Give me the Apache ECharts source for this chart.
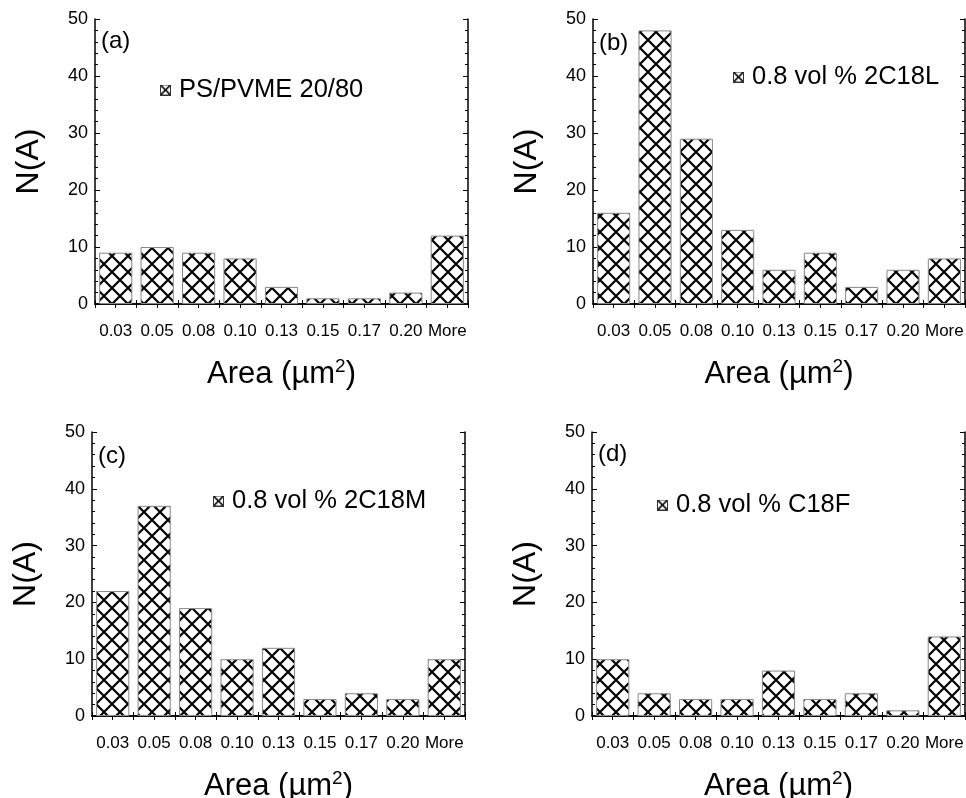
<!DOCTYPE html>
<html>
<head>
<meta charset="utf-8">
<script src="https://cdn.jsdelivr.net/npm/echarts@6/dist/echarts.min.js"></script>
<style>
  html, body { margin: 0; padding: 0; background: #fff; }
  #chart { width: 966px; height: 798px; }
</style>
</head>
<body>
<div id="chart"></div>
<script>
// Domain size histograms, N(A) per area bin
const categories = ['0.03', '0.05', '0.08', '0.10', '0.13', '0.15', '0.17', '0.20', 'More'];
const countsBlend = [9, 10, 9, 8, 3, 1, 1, 2, 12];
const counts2C18L = [16, 48, 29, 13, 6, 9, 3, 6, 8];
const counts2C18M = [22, 37, 19, 10, 12, 3, 4, 3, 10];
const countsC18F = [10, 4, 3, 3, 8, 3, 4, 1, 14];
const seriesNames = ['PS/PVME 20/80', '0.8 vol % 2C18L', '0.8 vol % 2C18M', '0.8 vol % C18F'];
const panelTags = ['(a)', '(b)', '(c)', '(d)'];
const yMin = 0, yMax = 50, yStep = 10;

const panelCounts = [countsBlend, counts2C18L, counts2C18M, countsC18F];
const FONT = "'Liberation Sans', Arial, Helvetica, sans-serif";

// Cross-hatch fill used by all bars
function makeHatch(size) {
  const c = document.createElement('canvas');
  c.width = c.height = size;
  const g = c.getContext('2d');
  g.fillStyle = '#fff';
  g.fillRect(0, 0, size, size);
  g.strokeStyle = '#000';
  g.lineWidth = 2.2;
  g.beginPath();
  for (const k of [-size, 0, size]) {
    g.moveTo(k, 0); g.lineTo(k + size, size);
    g.moveTo(k + size, 0); g.lineTo(k, size);
  }
  g.stroke();
  return c;
}

// Small boxed-cross swatch for the legends
function makeSwatch() {
  const s = 11;
  const c = document.createElement('canvas');
  c.width = c.height = s;
  const g = c.getContext('2d');
  g.fillStyle = '#fff';
  g.fillRect(0, 0, s, s);
  g.strokeStyle = '#000';
  g.lineWidth = 1.7;
  g.beginPath();
  g.moveTo(1, 1); g.lineTo(s - 1, s - 1);
  g.moveTo(s - 1, 1); g.lineTo(1, s - 1);
  g.stroke();
  g.strokeStyle = '#333';
  g.lineWidth = 1;
  g.strokeRect(0.5, 0.5, s - 1, s - 1);
  return c.toDataURL();
}

const hatch = makeHatch(16);
const swatch = makeSwatch();

const grids = [
  { left: 95, top: 19, width: 373, height: 285, outerBoundsMode: 'none' },
  { left: 593, top: 19, width: 372, height: 285, outerBoundsMode: 'none' },
  { left: 92, top: 432, width: 373, height: 284, outerBoundsMode: 'none' },
  { left: 592, top: 432, width: 373, height: 284, outerBoundsMode: 'none' }
];
const legendPos = [
  { left: 160, top: 77 },
  { left: 733, top: 64 },
  { left: 213, top: 488 },
  { left: 657, top: 492 }
];
const tagPos = [
  { left: 101, top: 29 },
  { left: 599, top: 31 },
  { left: 98, top: 444 },
  { left: 598, top: 442 }
];

const axisLine = { show: true, lineStyle: { color: '#000', width: 1.5 } };

const xAxes = [], yAxes = [], series = [], legends = [], titles = [];
grids.forEach((g, i) => {
  // bottom category axis with bin labels
  xAxes.push({
    type: 'category', gridIndex: i, position: 'bottom', data: categories,
    boundaryGap: true,
    axisLine: axisLine,
    axisTick: { show: true, inside: true, length: 4, lineStyle: { color: '#000', width: 1 } },
    axisLabel: { color: '#000', fontFamily: FONT, fontSize: 17, margin: 19, interval: 0 },
    name: 'Area (\u00b5m{sup|2})',
    nameLocation: 'middle', nameGap: 53,
    nameTextStyle: {
      color: '#000', fontFamily: FONT, fontSize: 31,
      rich: { sup: { fontSize: 19, fontFamily: FONT, color: '#000', verticalAlign: 'top', padding: [0, 0, 16, 0] } }
    },
    splitLine: { show: false }
  });
  // top frame with half-bin ticks
  xAxes.push({
    type: 'value', gridIndex: i, position: 'top', min: 0, max: 9, interval: 0.5,
    axisLine: axisLine,
    axisTick: { show: true, inside: true, length: 4, lineStyle: { color: '#000', width: 1 } },
    axisLabel: { show: false }, splitLine: { show: false }
  });
  yAxes.push({
    type: 'value', gridIndex: i, position: 'left', min: yMin, max: yMax, interval: yStep,
    axisLine: axisLine,
    axisTick: { show: true, inside: true, length: 5, lineStyle: { color: '#000', width: 1 } },
    minorTick: { show: true, splitNumber: 5, length: 3, lineStyle: { color: '#000', width: 1 } },
    axisLabel: { color: '#000', fontFamily: FONT, fontSize: 18, margin: 7 },
    splitLine: { show: false },
    name: 'N(A)', nameLocation: 'middle', nameGap: 50,
    nameTextStyle: { color: '#000', fontFamily: FONT, fontSize: 32 }
  });
  yAxes.push({
    type: 'value', gridIndex: i, position: 'right', min: yMin, max: yMax, interval: yStep,
    axisLine: axisLine,
    axisTick: { show: true, inside: true, length: 5, lineStyle: { color: '#000', width: 1 } },
    minorTick: { show: true, splitNumber: 5, length: 3, lineStyle: { color: '#000', width: 1 } },
    axisLabel: { show: false }, splitLine: { show: false }
  });
  series.push({
    type: 'bar', name: seriesNames[i],
    xAxisIndex: 2 * i, yAxisIndex: 2 * i,
    data: panelCounts[i],
    barCategoryGap: '20%',
    itemStyle: { color: { image: hatch, repeat: 'repeat' }, borderColor: '#888', borderWidth: 1 },
    emphasis: { disabled: true },
    animation: false
  });
  legends.push({
    data: [seriesNames[i]],
    left: legendPos[i].left, top: legendPos[i].top,
    padding: 0, itemWidth: 11, itemHeight: 11,
    icon: 'image://' + swatch,
    selectedMode: false,
    textStyle: { color: '#000', fontFamily: FONT, fontSize: 25.5, lineHeight: 26, padding: [0, 0, 0, 3] }
  });
  titles.push({
    text: panelTags[i], left: tagPos[i].left, top: tagPos[i].top, padding: 0,
    textStyle: { color: '#000', fontFamily: FONT, fontSize: 24, fontWeight: 'normal' }
  });
});

const chart = echarts.init(document.getElementById('chart'), null, { renderer: 'canvas' });
chart.setOption({
  backgroundColor: '#fff',
  animation: false,
  title: titles,
  legend: legends,
  grid: grids,
  xAxis: xAxes,
  yAxis: yAxes,
  series: series
});
</script>
</body>
</html>
